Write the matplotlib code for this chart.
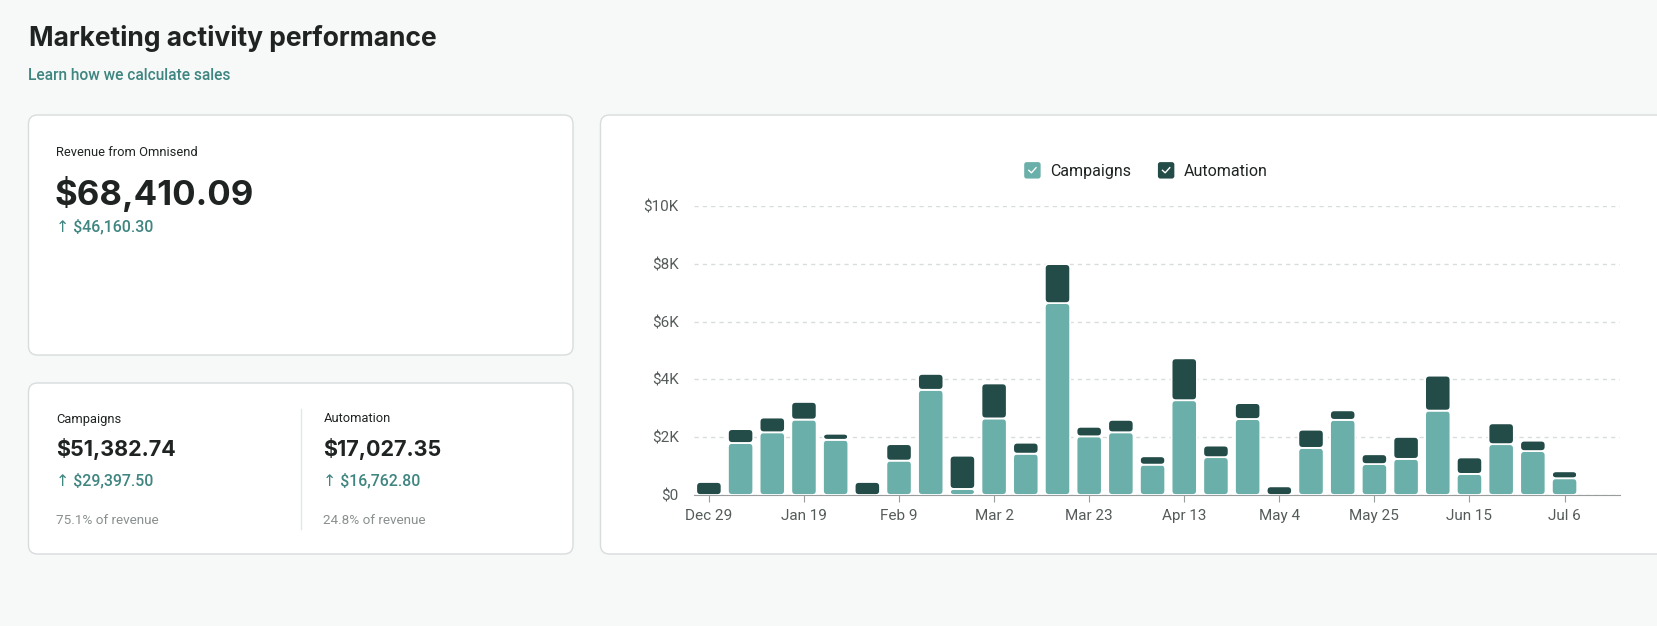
import matplotlib.pyplot as plt
from matplotlib.patches import FancyBboxPatch
from matplotlib.lines import Line2D
from matplotlib.legend_handler import HandlerBase
from matplotlib.container import BarContainer
from matplotlib.ticker import FuncFormatter

W, H = 1658, 626

weeks = ['Dec 29', 'Jan 5', 'Jan 12', 'Jan 19', 'Jan 26', 'Feb 2', 'Feb 9',
         'Feb 16', 'Feb 23', 'Mar 2', 'Mar 9', 'Mar 16', 'Mar 23', 'Mar 30',
         'Apr 6', 'Apr 13', 'Apr 20', 'Apr 27', 'May 4', 'May 11', 'May 18',
         'May 25', 'Jun 1', 'Jun 8', 'Jun 15', 'Jun 22', 'Jun 29', 'Jul 6']
campaigns = [0, 1800, 2170, 2610, 1910, 0, 1190, 3640, 210, 2650, 1430, 6640,
             2030, 2170, 1050, 3280, 1310, 2630, 0, 1630, 2600, 1070, 1250,
             2920, 730, 1760, 1520, 580]
automation = [450, 480, 510, 610, 210, 450, 570, 550, 1150, 1210, 380, 1350,
              330, 430, 290, 1450, 400, 550, 300, 630, 330, 340, 760, 1210,
              570, 720, 360, 240]
y_ticks = [0, 2000, 4000, 6000, 8000, 10000]

C_CAMP = '#6aafa9'
C_AUTO = '#234b48'
TEAL = '#3f8580'
DARK = '#1f2322'
BODY = ['Roboto', 'DejaVu Sans']
HEAD = ['Inter', 'DejaVu Sans']

fig = plt.figure(figsize=(W / 100, H / 100), dpi=100)
fig.patch.set_facecolor('#f7f8f8')

# page layer in pixel coordinates
bg = fig.add_axes([0, 0, 1, 1], zorder=0)
bg.set_xlim(0, W)
bg.set_ylim(H, 0)
bg.axis('off')


def card(x0, y0, x1, y1):
    bg.add_patch(FancyBboxPatch((x0, y0), x1 - x0, y1 - y0,
                                boxstyle='round,pad=0,rounding_size=9',
                                facecolor='white', edgecolor='#d8dcdc', lw=1.0))


card(28.5, 115, 573, 355)
card(28.5, 383, 573, 554)
card(600.5, 115, 1700, 554)

bg.text(29, 45.5, 'Marketing activity performance', fontsize=19,
        fontweight='bold', color=DARK, family=HEAD, va='baseline')
bg.text(28.5, 80.5, 'Learn how we calculate sales', fontsize=11.2,
        fontweight='medium', color=TEAL, family=BODY, va='baseline')

bg.text(56, 155.5, 'Revenue from Omnisend', fontsize=9.3, color=DARK,
        family=BODY, va='baseline')
bg.text(55, 205, '$68,410.09', fontsize=25, fontweight='bold', color=DARK,
        family=HEAD, va='baseline')
bg.text(56, 231.5, '↑ $46,160.30', fontsize=11.4, fontweight='medium',
        color=TEAL, family=BODY, va='baseline')

bg.plot([301, 301], [409, 529], color='#e4e6e6', lw=1)
for x0, name, total, delta, share in [
        (56, 'Campaigns', '$51,382.74', '↑ $29,397.50', '75.1% of revenue'),
        (323.5, 'Automation', '$17,027.35', '↑ $16,762.80', '24.8% of revenue')]:
    bg.text(x0, 422.5, name, fontsize=9.3, color=DARK, family=BODY,
            va='baseline')
    bg.text(x0, 456.5, total, fontsize=15.5, fontweight='bold', color=DARK,
            family=HEAD, va='baseline')
    bg.text(x0, 485, delta, fontsize=11.4, fontweight='medium', color=TEAL,
            family=BODY, va='baseline')
    bg.text(x0, 523.5, share, fontsize=9.7, color='#8a8f8f', family=BODY,
            va='baseline')

# bar chart
ax = fig.add_axes([694 / W, 1 - 495 / H, (1620 - 694) / W, (495 - 206) / H],
                  zorder=2)
ax.patch.set_visible(False)
x = list(range(len(weeks)))
bc = ax.bar(x, campaigns, width=0.8, color=C_CAMP, label='Campaigns')
ba = ax.bar(x, automation, width=0.8, bottom=campaigns, color=C_AUTO,
            label='Automation')
ax.set_xlim(-0.47, 28.75)
ax.set_ylim(0, 10000)

# swap the plain rectangles for rounded ones
px_x = (28.75 + 0.47) / (1620 - 694)
px_y = 10000 / (495 - 206)
for cont in (bc, ba):
    for r in cont.patches:
        r.set_visible(False)
        if r.get_height() <= 0:
            continue
        ax.add_patch(FancyBboxPatch(
            (r.get_x(), r.get_y()), r.get_width(), r.get_height(),
            boxstyle='round,pad=0,rounding_size=%f' % (4.2 * px_x),
            mutation_aspect=px_y / px_x, facecolor=r.get_facecolor(),
            edgecolor='white', lw=1.3, zorder=3))

ax.set_yticks(y_ticks)
ax.yaxis.set_major_formatter(FuncFormatter(
    lambda v, p: '$0' if v == 0 else '$%dK' % (v / 1000)))
ax.set_xticks(x[::3])
ax.set_xticklabels(weeks[::3])
ax.grid(axis='y', ls=(0, (3, 3)), color='#d9dcdc', lw=1)
ax.set_axisbelow(True)
for s in ['top', 'right', 'left']:
    ax.spines[s].set_visible(False)
ax.spines['bottom'].set_color('#9a9d9d')
ax.tick_params(axis='y', length=0, pad=11, labelsize=11, labelcolor='#555b5b')
ax.tick_params(axis='x', length=5, color='#9a9d9d', pad=5, labelsize=11,
               labelcolor='#555b5b')
for lab in ax.get_xticklabels() + ax.get_yticklabels():
    lab.set_family(BODY)


class CheckBox(HandlerBase):
    def create_artists(self, legend, orig_handle, xdescent, ydescent,
                       width, height, fontsize, trans):
        s = height * 1.15
        x0 = -xdescent + (width - s) / 2
        y0 = -ydescent + (height - s) / 2
        box = FancyBboxPatch((x0, y0), s, s,
                             boxstyle='round,pad=0,rounding_size=%f' % (s * 0.15),
                             facecolor=orig_handle.patches[0].get_facecolor(),
                             edgecolor='none', transform=trans)
        tick = Line2D([x0 + 0.28 * s, x0 + 0.44 * s, x0 + 0.72 * s],
                      [y0 + 0.5 * s, y0 + 0.35 * s, y0 + 0.66 * s],
                      color='white', lw=1.0, transform=trans)
        return [box, tick]


ax.legend(handles=[bc, ba], handler_map={BarContainer: CheckBox()},
          loc='center', bbox_to_anchor=(1146 / W, 1 - 171 / H),
          bbox_transform=fig.transFigure, ncol=2, frameon=False,
          prop={'family': BODY, 'size': 11.5}, labelcolor=DARK,
          handlelength=1.0, handleheight=1.0, handletextpad=0.6,
          columnspacing=1.7)

fig.savefig('out.png', dpi=100, facecolor=fig.get_facecolor())
